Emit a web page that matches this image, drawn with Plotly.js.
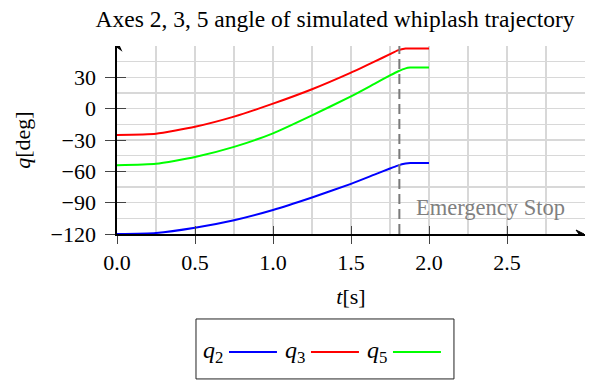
<!DOCTYPE html>
<html>
<head>
<meta charset="utf-8">
<script src="https://cdn.plot.ly/plotly-3.0.1.min.js"></script>
<style>html,body{margin:0;padding:0;background:#fff}#chart{width:592px;height:387px}</style>
</head>
<body>
<div id="chart"></div>
<script>
// ---- data ----
const time = [0, 0.25, 0.5, 0.75, 1.0, 1.25, 1.5, 1.65, 1.75, 1.8, 1.85, 1.88, 2.0];
const q2 = [-120, -119, -114, -106.8, -97, -85, -72, -63.2, -57.3, -54.5, -52.6, -52, -52];
const q3 = [-25.2, -24.0, -17.3, -7.6, 4.8, 18.6, 34.5, 45, 52.2, 55.8, 57.6, 57.6, 57.6];
const q5 = [-54.2, -52.8, -46.3, -36.6, -23.6, -6.4, 11.8, 23.8, 31.8, 35.6, 38.6, 39.3, 39.3];
const seriesNames = ["q2", "q3", "q5"];
const seriesLabels = ["<i>q</i><sub>2</sub>", "<i>q</i><sub>3</sub>", "<i>q</i><sub>5</sub>"];
const seriesColors = ["#0000ff", "#ff0000", "#00ff00"];
const stopTime = 1.81;
const stopLabel = "Emergency Stop";
const xTickVals = [0, 0.5, 1.0, 1.5, 2.0, 2.5];
const xTickText = ["0.0", "0.5", "1.0", "1.5", "2.0", "2.5"];
const yTickVals = [-120, -90, -60, -30, 0, 30];
const xRange = [0, 3];
const yRange = [-120, 60];

const serif = "Liberation Serif, Times New Roman, serif";
const allSeries = [q2, q3, q5];

const traces = allSeries.map((ys, i) => ({
  x: time, y: ys, name: seriesNames[i], type: "scatter", mode: "lines",
  line: {color: seriesColors[i], width: 2, shape: "spline", smoothing: 0.5},
  showlegend: false, xaxis: "x", yaxis: "y"
}));

const shapes = [
  {type: "line", xref: "x", yref: "y", x0: stopTime, x1: stopTime, y0: yRange[0], y1: yRange[1],
   line: {color: "#7a7a7a", width: 2, dash: "10px,5px"}},
  // legend box
  {type: "rect", xref: "paper", yref: "paper", x0: 0.1688, x1: 0.720, y0: -0.771, y1: -0.452,
   line: {color: "#222", width: 1}, fillcolor: "rgba(255,255,255,0)"},
  // axis arrowheads (pixel-sized, anchored at axis ends)
  {type: "path", xref: "x", yref: "y", xsizemode: "pixel", ysizemode: "pixel",
   xanchor: xRange[1], yanchor: yRange[0], path: "M -9,4 L -1,0 L -9,-4 L -6,0 Z",
   fillcolor: "#000", line: {color: "#000", width: 1}},
  {type: "path", xref: "x", yref: "y", xsizemode: "pixel", ysizemode: "pixel",
   xanchor: xRange[0], yanchor: yRange[1], path: "M 0,-2 L 0,4 M -4,-4 L 0,5 L 4,-4 L 0,-1 Z",
   fillcolor: "#000", line: {color: "#000", width: 1.2}}
];

const annotations = [
  {xref: "x", yref: "y", x: 1.905, y: -95, xanchor: "left", yanchor: "middle", showarrow: false,
   text: stopLabel, font: {family: serif, size: 22.5, color: "#808080"}}
];

// manual legend: label then line sample
const legX0 = 0.1838, legStep = 0.1752, legY = -0.628;
seriesNames.forEach((n, i) => {
  const lx = legX0 + i * legStep;
  annotations.push({xref: "paper", yref: "paper", x: lx - 0.004, y: legY, xanchor: "left", yanchor: "middle",
    showarrow: false, text: seriesLabels[i], font: {family: serif, size: 24, color: "#000"}});
  shapes.push({type: "line", xref: "paper", yref: "paper", x0: lx + 0.0555, x1: lx + 0.158, y0: legY, y1: legY,
    line: {color: seriesColors[i], width: 2}});
});

const gridColor = "#d8d8d8";
const tickCol = "#444";
const layout = {
  width: 592, height: 387,
  margin: {l: 117, r: 7, t: 46, b: 153},
  paper_bgcolor: "#fff", plot_bgcolor: "#fff",
  font: {family: serif, size: 22, color: "#000"},
  title: {text: "Axes 2, 3, 5 angle of simulated whiplash trajectory", font: {family: serif, size: 23.5, color: "#000"},
          x: 0.566, xanchor: "center", y: 0.952, yanchor: "middle"},
  xaxis: {range: xRange, tickvals: xTickVals, ticktext: xTickText, ticks: "outside", ticklen: 8, tickwidth: 1,
          tickcolor: tickCol, showgrid: true, gridcolor: gridColor, gridwidth: 1.5, zeroline: false,
          showline: true, linecolor: "#000", linewidth: 1.6,
          minor: {dtick: 0.25, tick0: 0, showgrid: true, gridcolor: gridColor, gridwidth: 1.5, ticks: ""},
          tickfont: {family: serif, size: 22}, fixedrange: true,
          title: {text: "<i>t</i>[s]", font: {family: serif, size: 22}, standoff: 14}},
  yaxis: {range: yRange, tickvals: yTickVals, ticks: "outside", ticklen: 10, tickwidth: 1, tickcolor: tickCol,
          showgrid: true, gridcolor: gridColor, gridwidth: 1.5, zeroline: false,
          showline: true, linecolor: "#000", linewidth: 1.6, ticklabelstandoff: 5,
          minor: {dtick: 15, tick0: 0, showgrid: true, gridcolor: gridColor, gridwidth: 1.5, ticks: ""},
          tickfont: {family: serif, size: 22}, fixedrange: true,
          title: {text: "<i>q</i>[deg]", font: {family: serif, size: 22}, standoff: 14}},
  xaxis2: {overlaying: "x", range: xRange, tickvals: xTickVals, ticks: "inside", ticklen: 8, tickwidth: 1,
           tickcolor: tickCol, showticklabels: false, showgrid: false, zeroline: false, showline: false, anchor: "y"},
  yaxis2: {overlaying: "y", range: yRange, tickvals: yTickVals, ticks: "inside", ticklen: 9, tickwidth: 1,
           tickcolor: tickCol, showticklabels: false, showgrid: false, zeroline: false, showline: false, anchor: "x"},
  shapes: shapes,
  annotations: annotations,
  showlegend: false
};

// invisible trace to anchor overlay axes
traces.push({x: [xRange[0]], y: [yRange[0]], xaxis: "x2", yaxis: "y2", mode: "markers",
             marker: {opacity: 0}, hoverinfo: "skip", showlegend: false});

Plotly.newPlot("chart", traces, layout, {displayModeBar: false, staticPlot: true});
</script>
</body>
</html>
